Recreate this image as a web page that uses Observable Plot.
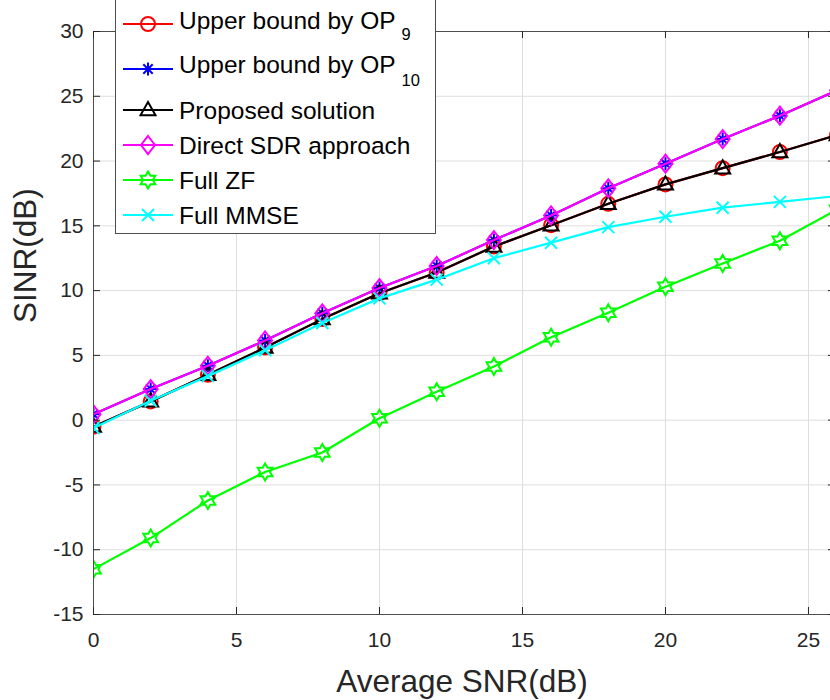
<!DOCTYPE html>
<html><head><meta charset="utf-8">
<script src="https://cdn.jsdelivr.net/npm/d3@7"></script>
<script src="https://cdn.jsdelivr.net/npm/@observablehq/plot@0.6"></script>
<style>
html,body{margin:0;padding:0;background:#fff;overflow:hidden}
#chart{position:relative;width:830px;height:700px}
#chart > svg{display:block}
#legend{position:absolute;left:0;top:0}
</style></head><body><div id="chart"></div>
<script>
// ---- data ----
const snr = [0, 2, 4, 6, 8, 10, 12, 14, 16, 18, 20, 22, 24, 26];
const op9 = [-0.5, 1.45, 3.5, 5.6, 7.8, 9.8, 11.4, 13.4, 15.05, 16.7, 18.2, 19.45, 20.7, 22.0];
const op10 = [0.45, 2.4, 4.2, 6.15, 8.25, 10.2, 11.9, 13.9, 15.8, 17.9, 19.8, 21.7, 23.5, 25.45];
const proposed = [-0.5, 1.45, 3.5, 5.6, 7.8, 9.8, 11.4, 13.4, 15.05, 16.7, 18.2, 19.45, 20.7, 22.0];
const sdr = [0.45, 2.4, 4.2, 6.15, 8.25, 10.2, 11.9, 13.9, 15.8, 17.9, 19.8, 21.7, 23.5, 25.45];
const fullZF = [-11.5, -9.1, -6.2, -4.0, -2.5, 0.15, 2.2, 4.15, 6.4, 8.3, 10.3, 12.1, 13.85, 16.25];
const fullMMSE = [-0.6, 1.5, 3.4, 5.4, 7.5, 9.4, 10.85, 12.5, 13.7, 14.9, 15.7, 16.4, 16.85, 17.3];
const xTicks = [0, 5, 10, 15, 20, 25];
const yTicks = [-15, -10, -5, 0, 5, 10, 15, 20, 25, 30];
const seriesNames = ["Upper bound by OP", "Upper bound by OP", "Proposed solution", "Direct SDR approach", "Full ZF", "Full MMSE"];
const seriesSubs = ["9", "10", "", "", "", ""];
const xLabel = "Average SNR(dB)";
const yLabel = "SINR(dB)";

// ---- marker shapes (MATLAB-like) ----
const K = s => Math.sqrt(s / Math.PI) / 7;
const symCircle = {draw(c, s){ const r = 7*K(s); c.moveTo(r,0); c.arc(0,0,r,0,2*Math.PI); c.closePath(); }};
const symAsterisk = {draw(c, s){ const a = 6.5*K(s), d = a*0.72;
  c.moveTo(-a,0); c.lineTo(a,0); c.moveTo(0,-a); c.lineTo(0,a);
  c.moveTo(-d,-d); c.lineTo(d,d); c.moveTo(-d,d); c.lineTo(d,-d); }};
const symTriangle = {draw(c, s){ const k = K(s); c.moveTo(0,-8*k); c.lineTo(7.5*k,5.2*k); c.lineTo(-7.5*k,5.2*k); c.closePath(); }};
const symDiamond = {draw(c, s){ const k = K(s); c.moveTo(0,-9*k); c.lineTo(7*k,0); c.lineTo(0,9*k); c.lineTo(-7*k,0); c.closePath(); }};
const symHexagram = {draw(c, s){ const k = K(s), R = 8.5*k, r = R/Math.sqrt(3);
  for (let i = 0; i < 12; i++){ const a = (-90 + 30*i)*Math.PI/180, rr = i%2 ? r : R;
    const px = rr*Math.cos(a), py = rr*Math.sin(a); i ? c.lineTo(px,py) : c.moveTo(px,py); }
  c.closePath(); }};
const symTimes = {draw(c, s){ const a = 6*K(s); c.moveTo(-a,-a); c.lineTo(a,a); c.moveTo(-a,a); c.lineTo(a,-a); }};

const seriesValues = [op9, op10, proposed, sdr, fullZF, fullMMSE];
const colors = ["#ff0000", "#0000ff", "#000000", "#ff00ff", "#00ff00", "#00ffff"];
const symbols = [symCircle, symAsterisk, symTriangle, symDiamond, symHexagram, symTimes];

const W = 830, H = 700, mL = 93, mT = 31, mB = 86, mR = 0;
const xMax = 25.77;
const frameW = W - mL - mR, frameH = H - mT - mB;

const marks = [
  Plot.gridX(xTicks, {stroke: "#dedede", strokeOpacity: 1}),
  Plot.gridY(yTicks, {stroke: "#dedede", strokeOpacity: 1}),
];
seriesValues.forEach((vals, si) => {
  const data = snr.map((x, i) => ({x, y: vals[i]}));
  marks.push(Plot.line(data, {x: "x", y: "y", stroke: colors[si], strokeWidth: 2.2, clip: true}));
  marks.push(Plot.dot(data, {x: "x", y: "y", stroke: colors[si], fill: "none", r: 7, strokeWidth: 2, symbol: () => symbols[si], clip: true}));
});
marks.push(
  Plot.ruleX([0], {stroke: "#4d4d4d"}),
  Plot.ruleY([-15], {stroke: "#4d4d4d"}),
  Plot.ruleY([30], {stroke: "#4d4d4d"}),
  Plot.tickX(xTicks, {x: d => d, stroke: "#262626", insetTop: frameH - 7}),
  Plot.tickX(xTicks, {x: d => d, stroke: "#262626", insetBottom: frameH - 7}),
  Plot.tickY(yTicks, {y: d => d, stroke: "#262626", insetRight: frameW - 7}),
  Plot.tickY(yTicks, {y: d => d, stroke: "#262626", insetLeft: frameW - 2}),
  Plot.axisX(xTicks, {tickSize: 0, tickPadding: 18, label: null, tickFormat: d => String(d), fontSize: 21}),
  Plot.axisY(yTicks, {tickSize: 0, tickPadding: 10, label: null, tickFormat: d => String(d), fontSize: 21}),
  Plot.text([xLabel], {frameAnchor: "bottom", lineAnchor: "top", dy: 55, fontSize: 31.5, fill: "#262626"}),
  Plot.text([yLabel], {frameAnchor: "left", lineAnchor: "top", rotate: -90, dx: -80, fontSize: 31.5, fill: "#262626"})
);

const plot = Plot.plot({
  width: W, height: H,
  marginLeft: mL, marginRight: mR, marginTop: mT, marginBottom: mB,
  x: {domain: [0, xMax]},
  y: {domain: [-15, 30]},
  style: {fontFamily: "'Liberation Sans', Arial, sans-serif", color: "#262626", background: "white"},
  marks
});
const chart = document.getElementById("chart");
chart.appendChild(plot);

// ---- legend overlay ----
const lineYs = [24, 69, 110, 145, 180, 215];
const baseYs = [29, 73, 119, 154, 189, 224];
const subDy = [11, 13, 0, 0, 0, 0];
const leg = d3.create("svg").attr("id", "legend").attr("width", W).attr("height", 240)
  .style("font-family", "'Liberation Sans', Arial, sans-serif");
leg.append("rect").attr("x", 115.5).attr("y", -2).attr("width", 320).attr("height", 235.5)
  .attr("fill", "white").attr("stroke", "#4d4d4d").attr("stroke-width", 1);
seriesNames.forEach((name, i) => {
  const g = leg.append("g");
  g.append("line").attr("x1", 123).attr("x2", 173).attr("y1", lineYs[i]).attr("y2", lineYs[i])
    .attr("stroke", colors[i]).attr("stroke-width", 2.2);
  const p = d3.path(); symbols[i].draw(p, 49 * Math.PI);
  g.append("path").attr("d", p.toString()).attr("transform", `translate(148,${lineYs[i]})`)
    .attr("fill", "none").attr("stroke", colors[i]).attr("stroke-width", 2);
  const t = g.append("text").attr("x", 179).attr("y", baseYs[i]).attr("font-size", 24.5).attr("fill", "#000");
  t.append("tspan").text(name);
  if (seriesSubs[i]) t.append("tspan").attr("dx", 6).attr("dy", subDy[i]).attr("font-size", 16.5).text(seriesSubs[i]);
});
chart.appendChild(leg.node());
</script></body></html>
